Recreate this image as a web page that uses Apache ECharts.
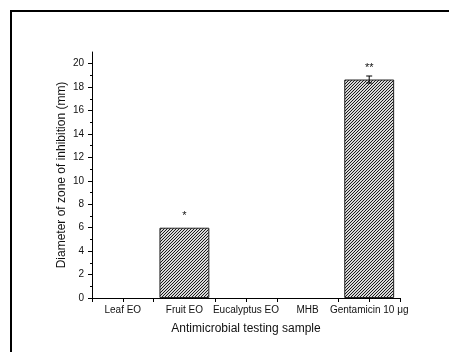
<!DOCTYPE html>
<html>
<head>
<meta charset="utf-8">
<script src="https://cdn.jsdelivr.net/npm/echarts@6/dist/echarts.min.js"></script>
<style>
  html, body { margin: 0; padding: 0; background: #fff; }
  #chart { width: 449px; height: 352px; }
</style>
</head>
<body>
<div id="chart"></div>
<script>
const categories = ['Leaf EO', 'Fruit EO', 'Eucalyptus EO', 'MHB', 'Gentamicin 10 μg'];
const zoneValues = [0, 6.0, 0, 0, 18.65];
const zoneErrors = [0, 0, 0, 0, 0.3];
const significance = ['', '*', '', '', '**'];
const majorTicks = [0, 2, 4, 6, 8, 10, 12, 14, 16, 18, 20];
const minorTicks = [1, 3, 5, 7, 9, 11, 13, 15, 17, 19];

// diagonal hatch fill for the bars
function hatch() {
  const c = document.createElement('canvas');
  c.width = 3; c.height = 3;
  const ctx = c.getContext('2d');
  ctx.fillStyle = '#d8d8d8';
  ctx.fillRect(0, 0, 3, 3);
  ctx.fillStyle = '#1a1a1a';
  ctx.fillRect(0, 2, 1, 1);
  ctx.fillRect(1, 1, 1, 1);
  ctx.fillRect(2, 0, 1, 1);
  return c;
}

const font = 'Liberation Sans, Arial, sans-serif';
const chart = echarts.init(document.getElementById('chart'), null, { renderer: 'canvas' });

const option = {
  animation: false,
  backgroundColor: '#fff',
  textStyle: { fontFamily: font },
  graphic: [{
    type: 'rect',
    shape: { x: 11, y: 11, width: 470, height: 370 },
    style: { fill: 'none', stroke: '#000', lineWidth: 2 },
    silent: true
  }],
  grid: { left: 92, right: 49, top: 52, bottom: 54 },
  xAxis: [
    {
      type: 'category',
      data: categories,
      name: 'Antimicrobial testing sample',
      nameLocation: 'middle',
      nameGap: 25,
      nameMoveOverlap: false,
      nameTextStyle: { fontSize: 12, color: '#111', fontFamily: font },
      axisLine: { lineStyle: { color: '#000', width: 1 } },
      axisTick: { show: true, length: 4, inside: false, lineStyle: { color: '#000' } },
      axisLabel: { fontSize: 10, color: '#111', margin: 7, interval: 0, fontFamily: font },
      splitLine: { show: false }
    },
    {
      type: 'category',
      data: categories,
      position: 'bottom',
      axisLine: { show: false },
      axisTick: { show: true, alignWithLabel: true, length: 4, lineStyle: { color: '#000' } },
      axisLabel: { show: false },
      splitLine: { show: false }
    }
  ],
  yAxis: [
    {
      type: 'value',
      min: 0,
      max: 21,
      name: 'Diameter of zone of inhibition (mm)',
      nameLocation: 'middle',
      nameGap: 24,
      nameMoveOverlap: false,
      nameTextStyle: { fontSize: 12, color: '#111', fontFamily: font },
      axisLine: { show: true, lineStyle: { color: '#000', width: 1 } },
      axisTick: { show: true, length: 4, customValues: majorTicks, lineStyle: { color: '#000' } },
      axisLabel: { fontSize: 10, color: '#111', margin: 8, customValues: majorTicks, fontFamily: font },
      splitLine: { show: false }
    },
    {
      type: 'value',
      min: 0,
      max: 21,
      position: 'left',
      axisLine: { show: false },
      axisTick: { show: true, length: 2, customValues: minorTicks, lineStyle: { color: '#000' } },
      axisLabel: { show: false },
      splitLine: { show: false }
    }
  ],
  series: [
    {
      type: 'bar',
      // zero means no bar in the original, so leave those empty
      data: zoneValues.map(v => (v === 0 ? '-' : v)),
      barCategoryGap: '19%',
      itemStyle: {
        color: { image: hatch(), repeat: 'repeat' },
        borderColor: '#222',
        borderWidth: 1
      },
      label: {
        show: true,
        position: 'top',
        distance: 6,
        fontSize: 11,
        color: '#111',
        formatter: p => significance[p.dataIndex]
      },
      z: 2
    },
    {
      type: 'custom',
      data: zoneValues.map((v, i) => [i, v - zoneErrors[i], v + zoneErrors[i]]),
      renderItem: function (params, api) {
        const i = api.value(0);
        if (!zoneErrors[i]) return null;
        const lo = api.coord([i, api.value(1)]);
        const hi = api.coord([i, api.value(2)]);
        const hw = 3;
        const st = { stroke: '#000', lineWidth: 1 };
        return {
          type: 'group',
          children: [
            { type: 'line', shape: { x1: hi[0], y1: hi[1], x2: lo[0], y2: lo[1] }, style: st },
            { type: 'line', shape: { x1: hi[0] - hw, y1: hi[1], x2: hi[0] + hw, y2: hi[1] }, style: st },
            { type: 'line', shape: { x1: lo[0] - hw, y1: lo[1], x2: lo[0] + hw, y2: lo[1] }, style: st }
          ]
        };
      },
      z: 3
    }
  ]
};

chart.setOption(option);
</script>
</body>
</html>
